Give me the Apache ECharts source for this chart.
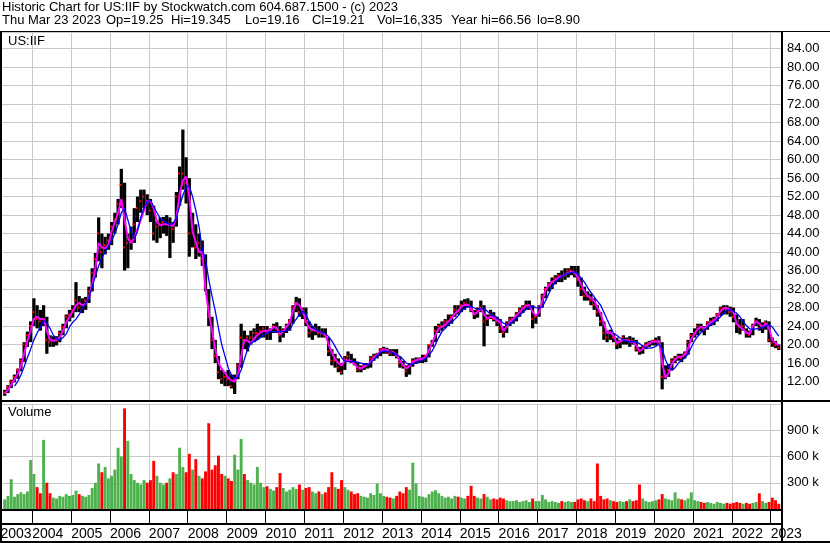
<!DOCTYPE html>
<html>
<head>
<meta charset="utf-8">
<script src="https://cdn.jsdelivr.net/npm/echarts@6/dist/echarts.min.js"></script>
<style>
  html, body { margin: 0; padding: 0; background: #fff; }
  #chart { width: 830px; height: 543px; }
</style>
</head>
<body>
<div id="chart"></div>
<script>
// monthly bars from Apr 2003 to Mar 2023 (first value = Apr 2003)
const firstMonth = 3; // months after Jan 2003

const priceHigh = [
  10.2, 11.2, 12.4, 13.5, 14.8, 17.0, 20.5, 22.8, 25.0,
  30.0, 28.5, 27.5, 28.5, 26.0, 22.0, 21.8, 21.8, 23.0, 24.5, 26.5, 27.5,
  28.5, 33.5, 30.5, 30.0, 30.3, 32.5, 36.5, 39.8, 47.5, 44.0, 43.3, 44.0,
  46.5, 48.5, 51.5, 58.0, 55.0, 44.0, 45.5, 49.5, 52.0, 53.5, 53.5, 52.5,
  51.5, 50.0, 46.8, 47.5, 47.6, 48.0, 47.5, 46.5, 53.0, 58.5, 66.5, 60.5,
  56.0, 48.5, 46.0, 44.0, 42.5, 39.5, 32.0, 26.0, 21.0, 17.5, 14.5, 14.0,
  14.5, 13.5, 13.5, 16.0, 24.5, 23.0, 22.0, 23.0, 23.5, 24.5, 24.0, 24.0,
  24.0, 23.5, 24.5, 24.8, 24.0, 23.5, 24.5, 25.5, 28.5, 30.3, 30.0, 28.0,
  28.0, 25.0, 24.0, 24.5, 24.0, 23.5, 23.5, 21.5, 19.0, 18.0, 17.0, 16.0,
  17.5, 18.5, 18.0, 17.0, 16.2, 15.5, 16.0, 16.0, 17.5, 18.0, 18.2, 19.2,
  19.5, 19.3, 19.0, 19.0, 19.0, 17.5, 16.5, 15.5, 16.0, 17.0, 17.2, 17.2,
  17.8, 17.8, 20.0, 21.0, 24.0, 24.5, 25.0, 25.5, 26.5, 26.5, 28.5, 28.5,
  29.5, 29.8, 30.0, 29.5, 27.5, 28.0, 29.5, 28.5, 26.5, 27.5, 27.0, 26.0,
  25.5, 24.0, 25.0, 26.0, 26.0, 27.0, 28.0, 28.5, 29.5, 29.5, 28.5, 26.5,
  28.5, 31.0, 32.5, 33.5, 34.5, 35.0, 35.5, 36.0, 36.5, 36.5, 37.0, 37.0,
  37.0, 34.5, 32.5, 31.5, 31.0, 30.0, 28.5, 27.0, 25.0, 23.0, 23.2, 22.5,
  21.5, 21.0, 22.0, 21.5, 21.8, 21.5, 21.0, 19.5, 19.8, 20.5, 20.8, 21.0,
  21.5, 21.8, 20.5, 15.5, 15.8, 17.0, 17.5, 18.0, 18.0, 18.5, 21.0, 22.5,
  23.5, 24.5, 24.5, 24.0, 25.0, 25.8, 26.0, 26.8, 28.2, 28.5, 28.5, 28.2,
  28.0, 26.5, 25.5, 25.5, 23.5, 23.0, 24.5, 25.8, 25.5, 24.8, 25.2, 25.0,
  21.5, 20.8, 20.0
];

const priceLow = [
  8.9, 9.5, 10.6, 11.8, 12.6, 14.2, 16.2, 19.5, 20.5,
  24.0, 23.5, 23.0, 24.0, 18.0, 19.5, 19.5, 19.8, 20.5, 22.0, 23.5, 25.0,
  25.8, 27.0, 27.0, 26.8, 27.5, 29.0, 31.5, 34.5, 38.0, 36.5, 39.5, 40.5,
  41.5, 44.0, 46.0, 49.5, 36.0, 36.5, 40.5, 42.0, 46.5, 48.5, 49.5, 48.0,
  46.5, 42.5, 42.0, 43.0, 44.0, 43.5, 38.7, 42.0, 45.5, 50.0, 53.5, 50.5,
  39.0, 41.0, 38.5, 39.0, 37.0, 31.5, 24.0, 19.0, 16.0, 12.5, 11.5, 11.0,
  11.0, 10.5, 9.3, 12.5, 15.0, 19.0, 18.5, 20.0, 20.5, 21.0, 21.5, 21.5,
  21.0, 21.0, 22.5, 22.5, 20.5, 21.5, 22.5, 23.0, 24.5, 27.0, 26.0, 25.5,
  24.0, 21.5, 21.0, 22.0, 21.5, 21.5, 21.5, 17.5, 15.5, 15.0, 14.0, 13.5,
  14.5, 16.5, 16.0, 15.5, 14.0, 14.0, 14.5, 14.8, 15.0, 16.5, 17.0, 17.5,
  18.0, 18.0, 17.5, 17.5, 17.0, 15.0, 14.8, 13.0, 13.5, 15.2, 15.8, 16.0,
  16.0, 16.2, 17.2, 19.5, 20.5, 22.5, 23.0, 23.5, 24.0, 24.5, 26.0, 26.5,
  27.0, 27.5, 28.0, 27.0, 25.5, 25.8, 27.0, 19.6, 24.0, 25.5, 25.0, 24.0,
  22.5, 21.5, 22.5, 24.0, 24.5, 25.0, 26.0, 26.8, 27.5, 27.5, 23.5, 24.5,
  26.0, 28.0, 30.0, 31.5, 32.0, 33.0, 33.5, 33.5, 34.0, 34.5, 35.0, 34.5,
  32.5, 30.5, 29.5, 29.5, 28.5, 27.5, 26.0, 24.0, 21.0, 20.5, 21.0, 20.5,
  19.0, 19.2, 20.0, 20.0, 19.5, 20.0, 18.5, 17.8, 18.0, 19.0, 19.5, 19.8,
  19.8, 20.0, 10.3, 12.5, 13.0, 14.5, 16.0, 16.5, 16.2, 17.0, 17.8, 20.5,
  21.5, 22.0, 22.8, 22.0, 23.2, 24.0, 24.2, 25.0, 26.2, 26.5, 26.5, 26.0,
  24.8, 22.5, 22.2, 23.0, 21.5, 21.5, 22.0, 24.0, 23.0, 22.5, 23.2, 20.5,
  19.5, 19.2, 18.8
];

const priceClose = [
  9.6, 10.8, 12.0, 13.0, 14.5, 16.5, 20.0, 22.0, 24.0,
  27.0, 25.5, 25.0, 25.5, 21.0, 20.5, 20.8, 21.0, 22.5, 23.8, 26.0, 26.5,
  27.5, 29.5, 28.0, 28.5, 29.5, 31.5, 35.5, 38.5, 44.0, 40.0, 41.5, 42.5,
  45.5, 47.0, 50.5, 54.5, 41.0, 42.0, 42.5, 46.0, 49.5, 51.0, 52.0, 51.0,
  49.0, 44.0, 45.5, 46.0, 46.5, 46.0, 46.0, 45.0, 52.0, 57.0, 57.0, 55.0,
  44.0, 46.0, 41.0, 42.0, 38.5, 32.5, 26.0, 21.0, 17.5, 14.0, 12.5, 13.0,
  12.5, 11.0, 12.5, 15.5, 21.5, 21.0, 21.5, 21.5, 22.5, 22.5, 23.0, 23.5,
  22.5, 23.0, 24.0, 23.5, 22.0, 23.0, 24.0, 25.0, 28.0, 29.0, 27.0, 27.5,
  25.0, 22.5, 23.0, 23.5, 22.5, 22.5, 22.0, 18.5, 16.5, 16.5, 15.0, 14.0,
  17.0, 17.5, 16.5, 16.0, 14.5, 15.0, 15.2, 15.5, 17.0, 17.5, 17.8, 19.0,
  19.0, 18.5, 18.0, 18.5, 17.5, 16.0, 15.5, 14.2, 15.5, 16.5, 16.5, 16.8,
  16.8, 17.5, 19.8, 20.5, 23.0, 24.0, 24.0, 25.0, 25.0, 26.0, 27.5, 27.0,
  28.5, 29.0, 28.5, 27.5, 26.5, 27.5, 28.0, 25.0, 25.5, 26.5, 25.5, 25.0,
  23.5, 22.5, 24.5, 25.5, 25.5, 26.5, 27.5, 28.0, 28.5, 28.5, 25.5, 26.0,
  28.0, 30.5, 32.0, 33.0, 33.5, 34.5, 35.0, 34.5, 35.0, 36.0, 36.0, 35.5,
  34.0, 32.0, 30.5, 30.5, 29.5, 28.5, 27.0, 25.0, 22.5, 21.5, 22.5, 21.5,
  20.0, 20.5, 21.5, 21.0, 21.0, 20.8, 19.0, 18.5, 19.5, 20.0, 20.3, 20.8,
  20.8, 20.5, 13.0, 14.0, 14.5, 16.5, 17.0, 17.5, 17.0, 18.0, 20.5, 22.0,
  22.5, 24.0, 23.8, 23.2, 24.8, 25.0, 25.3, 26.5, 27.8, 27.8, 27.5, 27.0,
  26.0, 24.5, 24.0, 24.0, 22.5, 22.0, 24.0, 25.0, 23.5, 24.0, 24.8, 21.0,
  20.3, 19.8, 19.2
];

// short moving average (magenta)
const maFast = [
  9.4, 10.2, 11.3, 12.4, 13.6, 15.4, 18.0, 20.8, 23.0,
  25.5, 26.0, 25.5, 25.6, 23.0, 21.0, 20.8, 20.9, 21.6, 23.0, 24.8, 26.0,
  27.2, 28.5, 29.0, 28.5, 28.8, 30.2, 33.0, 36.5, 42.0, 41.0, 40.8, 41.5,
  44.5, 46.5, 48.5, 51.5, 47.0, 43.0, 42.0, 43.0, 45.0, 47.0, 49.0, 51.0,
  51.0, 49.5, 46.5, 45.8, 46.0, 46.0, 45.9, 45.6, 47.5, 52.5, 55.5, 56.3,
  52.0, 44.5, 42.0, 40.0, 40.0, 31.8, 27.0, 23.0, 19.0, 16.0, 14.7, 13.9,
  12.8, 12.2, 12.0, 13.5, 17.5, 21.0, 20.8, 20.3, 21.3, 22.0, 22.6, 23.0,
  23.0, 23.1, 23.8, 23.6, 22.2, 22.8, 23.8, 24.8, 27.2, 29.0, 28.5, 27.3,
  25.0, 23.6, 23.2, 23.0, 22.8, 22.5, 22.2, 20.0, 18.3, 16.8, 16.0, 15.4,
  16.6, 16.6, 16.4, 15.8, 15.0, 14.8, 15.3, 15.6, 16.3, 17.2, 17.8, 18.5,
  19.0, 18.8, 18.4, 18.3, 17.8, 16.5, 15.6, 14.8, 15.3, 16.2, 16.6, 16.8,
  17.0, 17.2, 18.8, 20.3, 22.0, 23.5, 23.8, 24.3, 25.0, 25.7, 26.7, 27.3,
  28.2, 28.6, 28.6, 27.8, 26.5, 27.0, 27.8, 26.5, 25.6, 26.0, 25.8, 25.2,
  24.8, 22.9, 23.8, 25.0, 25.5, 26.3, 27.0, 27.8, 28.4, 28.5, 27.0, 26.2,
  27.0, 29.5, 31.8, 32.8, 33.5, 34.0, 34.5, 34.8, 35.1, 35.5, 35.8, 35.5,
  34.5, 33.0, 31.5, 30.5, 30.0, 29.5, 28.0, 26.6, 24.5, 22.5, 22.7, 21.8,
  20.3, 20.7, 21.0, 21.0, 20.6, 20.6, 19.8, 18.6, 19.0, 19.7, 20.2, 20.6,
  20.6, 20.8, 16.0, 12.8, 13.8, 15.8, 16.8, 17.3, 17.4, 17.8, 19.2, 21.2,
  22.3, 23.4, 23.8, 23.5, 24.2, 24.8, 25.2, 26.0, 27.2, 27.8, 27.9, 27.5,
  27.0, 24.5, 23.8, 23.3, 22.6, 22.3, 24.0, 25.0, 24.5, 23.6, 24.6, 23.5,
  21.0, 20.3, 19.8
];

// long moving average (blue)
const maSlow = [
  null, null, null, 11.0, 12.0, 13.4, 15.2, 17.2, 19.0,
  21.0, 22.5, 23.8, 25.2, 24.6, 23.5, 22.0, 21.2, 21.0, 21.5, 22.3, 23.8,
  24.8, 25.5, 26.5, 27.8, 28.8, 30.0, 32.5, 34.8, 37.0, 38.8, 40.0, 41.2,
  42.5, 44.0, 46.0, 48.5, 49.5, 47.0, 44.5, 42.8, 44.5, 47.5, 49.5, 51.0,
  51.2, 49.8, 48.5, 47.3, 46.8, 46.3, 46.0, 46.2, 47.4, 50.0, 52.3, 54.0,
  54.3, 52.0, 49.0, 45.5, 40.5, 38.5, 34.0, 30.5, 27.3, 23.5, 20.0, 17.5,
  15.0, 13.4, 12.6, 13.0, 14.5, 16.8, 19.0, 20.3, 20.7, 21.0, 21.5, 22.1,
  22.5, 22.8, 22.8, 22.8, 22.8, 22.8, 23.0, 23.2, 24.5, 25.5, 26.5, 27.2,
  26.5, 25.0, 24.0, 23.2, 22.8, 22.6, 22.4, 21.7, 20.8, 19.6, 18.3, 17.2,
  16.4, 16.3, 16.3, 16.3, 16.2, 16.0, 15.8, 15.6, 16.0, 16.8, 17.6, 18.3,
  18.6, 18.5, 18.4, 18.2, 17.8, 17.4, 16.8, 16.0, 15.6, 15.8, 16.0, 16.4,
  16.6, 17.0, 17.8, 18.6, 20.0, 21.5, 22.8, 23.5, 24.3, 24.8, 25.5, 26.2,
  27.2, 27.8, 28.2, 28.2, 27.9, 27.6, 27.7, 27.8, 27.2, 26.6, 26.2, 25.9,
  25.2, 24.6, 24.3, 24.5, 25.0, 25.6, 26.3, 27.0, 27.6, 28.1, 28.3, 28.0,
  27.9, 28.1, 29.5, 31.0, 32.5, 33.5, 34.2, 34.7, 35.1, 35.4, 35.6, 35.6,
  35.3, 34.3, 33.5, 32.3, 31.3, 30.3, 29.4, 28.5, 27.0, 25.4, 23.9, 22.4,
  22.0, 21.4, 21.0, 20.8, 20.6, 20.6, 20.6, 20.2, 19.7, 19.2, 19.2, 19.3,
  19.6, 20.1, 19.0, 16.7, 15.2, 14.4, 15.0, 16.0, 16.6, 17.1, 18.0, 19.4,
  20.8, 21.8, 22.6, 23.2, 23.7, 24.3, 24.8, 25.3, 26.0, 26.7, 27.4, 27.5,
  27.2, 26.8, 26.0, 25.0, 24.1, 23.4, 23.3, 23.4, 23.5, 23.7, 24.0, 24.3,
  23.8, 22.8, 21.8
];

// volume in thousands of shares
const volume = [
  110, 150, 340, 140, 170, 190, 170, 200, 560,
  400, 250, 180, 790, 300, 180, 130, 120, 150, 140, 170, 150,
  160, 210, 170, 150, 140, 160, 240, 300, 520, 420, 480, 350,
  380, 450, 700, 600, 1150, 780, 400, 330, 300, 280, 330, 300,
  330, 550, 380, 300, 280, 300, 350, 420, 400, 700, 480, 420,
  630, 450, 570, 380, 350, 430, 980, 450, 500, 610, 400, 380,
  350, 320, 620, 450, 800, 400, 330, 300, 280, 480, 300, 250,
  260, 230, 210, 250, 410, 240, 200, 220, 250, 230, 280, 220,
  240, 250, 200, 180, 200, 170, 190, 250, 420, 250, 230, 330,
  250, 220, 200, 170, 180, 150, 140, 130, 180, 160, 290, 180,
  150, 140, 130, 120, 150, 200, 180, 250, 220, 530, 290, 150,
  140, 130, 170, 200, 215, 180, 150, 130, 140, 120, 150, 140,
  130, 120, 150, 265, 150, 130, 120, 170, 140, 110, 120, 110,
  130, 120, 100, 90, 90, 100, 80, 90, 100, 80, 120, 90,
  90, 160, 110, 80, 90, 80, 70, 90, 80, 90, 80, 80,
  110, 120, 100, 90, 120, 90, 520, 150, 110, 120, 100, 90,
  80, 90, 80, 90, 110, 90, 100, 280, 120, 90, 80, 90,
  100, 110, 170, 120, 110, 100, 190, 120, 110, 100, 120, 190,
  100, 90, 80, 70, 80, 70, 60, 80, 70, 60, 70, 60,
  70, 80, 70, 60, 70, 60, 70, 80, 180, 90, 70, 80,
  130, 100, 60
];

const firstYear = 2003;
const headerLine1 = 'Historic Chart for US:IIF by Stockwatch.com 604.687.1500 - (c) 2023';
const headerFields = ['Thu Mar 23 2023', 'Op=19.25', 'Hi=19.345', 'Lo=19.16', 'Cl=19.21', 'Vol=16,335', 'Year hi=66.56', 'lo=8.90'];
const headerFieldX = [2, 106, 171, 245, 312, 377, 451, 537];

const FONT = "'Liberation Sans', Arial, sans-serif";
const GRID_COLOR = '#c8c8c8';

var myChart = echarts.init(document.getElementById('chart'));

const xPos = priceClose.map((c, i) => firstMonth + i + 0.5);
const barData = priceClose.map((c, i) => [xPos[i], priceLow[i], priceHigh[i], c]);
const fastData = maFast.map((v, i) => [xPos[i], v]);
const slowData = maSlow.map((v, i) => [xPos[i], v]);
const volData = volume.map((v, i) => [xPos[i], v * 1000, i > 0 && priceClose[i] < priceClose[i - 1] ? 1 : 0]);

const gridSide = { left: -6.6, right: 48, containLabel: false, outerBoundsMode: 'none' };

function monthAxis(gridIndex, extra) {
  return Object.assign({
    type: 'value',
    gridIndex: gridIndex,
    min: 0,
    max: 243.5,
    interval: 12,
    axisLine: { show: false },
    axisTick: { show: false },
    axisLabel: { show: false },
    splitLine: { show: true, lineStyle: { color: GRID_COLOR, width: 1 } }
  }, extra || {});
}

const headerGraphics = [
  { type: 'text', left: 2, top: 1, style: { text: headerLine1, font: '13px ' + FONT, fill: '#000' } }
].concat(headerFields.map((t, i) => ({
  type: 'text', left: headerFieldX[i], top: 14, style: { text: t, font: '13px ' + FONT, fill: '#000' }
})));

const option = {
  backgroundColor: '#fff',
  animation: false,
  grid: [
    Object.assign({ top: 32, height: 368 }, gridSide),
    Object.assign({ top: 404, height: 105 }, gridSide),
    Object.assign({ top: 511, height: 13 }, gridSide)
  ],
  xAxis: [
    monthAxis(0),
    monthAxis(1),
    monthAxis(2, {
      splitLine: { show: true, lineStyle: { color: '#000', width: 1 } },
      axisLabel: {
        show: true,
        align: 'left',
        margin: 3,
        color: '#000',
        fontSize: 14,
        fontFamily: FONT,
        showMinLabel: true,
        showMaxLabel: false,
        hideOverlap: false,
        formatter: function (v) {
          if (v % 12 !== 0) return '';
          const yr = firstYear + v / 12;
          return v === 0 ? '{first|' + yr + '}' : String(yr);
        },
        rich: { first: { padding: [0, 0, 0, 7], fontSize: 14, fontFamily: FONT, color: '#000' } }
      }
    })
  ],
  yAxis: [
    {
      type: 'value', gridIndex: 0, position: 'right',
      min: 8, max: 87.6, interval: 4,
      axisLine: { show: true, lineStyle: { color: '#000', width: 2 } },
      axisTick: { show: false },
      axisLabel: {
        margin: 5, color: '#000', fontSize: 13, fontFamily: FONT,
        showMinLabel: false, showMaxLabel: false,
        formatter: v => v.toFixed(2)
      },
      splitLine: { show: true, lineStyle: { color: GRID_COLOR, width: 1 } }
    },
    {
      type: 'value', gridIndex: 1, position: 'right',
      min: 0, max: 1200000, interval: 300000,
      axisLine: { show: true, lineStyle: { color: '#000', width: 2 } },
      axisTick: { show: false },
      axisLabel: {
        margin: 5, color: '#000', fontSize: 13, fontFamily: FONT,
        showMinLabel: false, showMaxLabel: false,
        formatter: v => (v / 1000) + ' k'
      },
      splitLine: { show: true, lineStyle: { color: GRID_COLOR, width: 1 } }
    },
    {
      type: 'value', gridIndex: 2, show: false, min: 0, max: 1
    }
  ],
  series: [
    {
      type: 'custom',
      xAxisIndex: 0, yAxisIndex: 0,
      clip: true,
      encode: { x: 0, y: [1, 2, 3] },
      renderItem: function (params, api) {
        const x = api.value(0);
        const top = api.coord([x, api.value(2)]);
        const bot = api.coord([x, api.value(1)]);
        const cl = api.coord([x, api.value(3)]);
        const w = api.size([1, 0])[0];
        return {
          type: 'group',
          children: [
            { type: 'rect', shape: { x: top[0] - w / 2, y: top[1], width: w, height: Math.max(1, bot[1] - top[1]) }, style: { fill: '#000' } },
            { type: 'rect', shape: { x: cl[0] - w / 2, y: cl[1] - 1, width: w * 0.6, height: 2 }, style: { fill: '#ff0000' } }
          ]
        };
      },
      data: barData,
      z: 2
    },
    {
      type: 'line',
      xAxisIndex: 0, yAxisIndex: 0,
      data: fastData,
      symbol: 'none',
      lineStyle: { color: '#ff00ff', width: 2 },
      z: 3
    },
    {
      type: 'line',
      xAxisIndex: 0, yAxisIndex: 0,
      data: slowData,
      symbol: 'none',
      connectNulls: false,
      lineStyle: { color: '#0000ff', width: 1.3 },
      z: 4
    },
    {
      type: 'custom',
      xAxisIndex: 1, yAxisIndex: 1,
      clip: true,
      encode: { x: 0, y: 1 },
      renderItem: function (params, api) {
        const x = api.value(0);
        const top = api.coord([x, api.value(1)]);
        const base = api.coord([x, 0]);
        const w = api.size([1, 0])[0] * 0.9;
        return {
          type: 'rect',
          shape: { x: top[0] - w / 2, y: top[1], width: w, height: base[1] - top[1] },
          style: { fill: api.value(2) ? '#ff0000' : '#4db14d' }
        };
      },
      data: volData,
      z: 2
    }
  ],
  graphic: headerGraphics.concat([
    { type: 'text', left: 8, top: 35, z: 10, style: { text: 'US:IIF', font: '13px ' + FONT, fill: '#000' } },
    { type: 'text', left: 8, top: 406, z: 10, style: { text: 'Volume', font: '13px ' + FONT, fill: '#000' } },
    // frame
    { type: 'rect', z: 20, shape: { x: 0, y: 31, width: 830, height: 1 }, style: { fill: '#000' } },
    { type: 'rect', z: 20, shape: { x: 0, y: 31, width: 2, height: 512 }, style: { fill: '#000' } },
    { type: 'rect', z: 20, shape: { x: 781, y: 31, width: 2, height: 512 }, style: { fill: '#000' } },
    { type: 'rect', z: 20, shape: { x: 0, y: 400, width: 830, height: 2 }, style: { fill: '#000' } },
    { type: 'rect', z: 20, shape: { x: 0, y: 509, width: 782, height: 2 }, style: { fill: '#000' } },
    { type: 'rect', z: 20, shape: { x: 0, y: 523, width: 782, height: 2 }, style: { fill: '#000' } },
    { type: 'rect', z: 20, shape: { x: 0, y: 541, width: 830, height: 2 }, style: { fill: '#000' } }
  ])
};

option && myChart.setOption(option);
</script>
</body>
</html>
